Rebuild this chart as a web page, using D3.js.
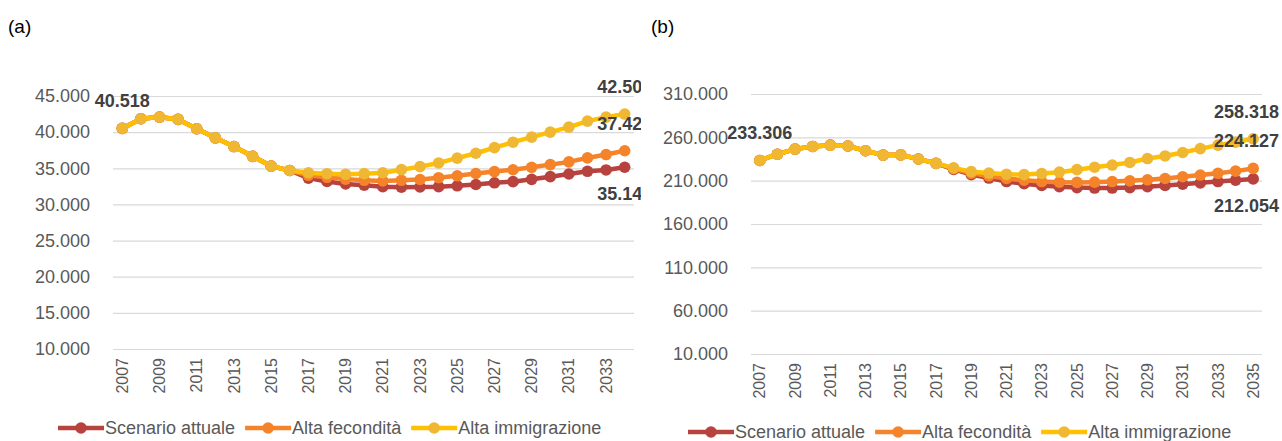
<!DOCTYPE html>
<html>
<head>
<meta charset="utf-8">
<script src="https://cdn.jsdelivr.net/npm/d3@7"></script>
<style>
  body { margin: 0; background: #fff; }
  svg text { font-family: "Liberation Sans", Arial, sans-serif; }
</style>
</head>
<body>
<svg id="chart" width="1282" height="441"></svg>
<script>
// ---- data (a) ----
var yearsA = d3.range(2007, 2035)
var attualeA = [40518, 41860, 42080, 41760, 40470, 39210, 38010, 36650, 35300, 34700,
  33640, 33180, 32830, 32650, 32460, 32390, 32410, 32460, 32580, 32760,
  32990, 33150, 33470, 33840, 34210, 34580, 34770, 35142]
var feconditaA = [40518, 41860, 42080, 41760, 40470, 39210, 38010, 36650, 35300, 34700,
  34030, 33750, 33500, 33340, 33250, 33340, 33450, 33700, 33960, 34280,
  34540, 34800, 35139, 35509, 35880, 36435, 36898, 37424]
var immigrazioneA = [40518, 41860, 42080, 41760, 40470, 39210, 38010, 36650, 35300, 34700,
  34380, 34250, 34170, 34260, 34380, 34810, 35230, 35740, 36400, 37080,
  37860, 38610, 39310, 40000, 40690, 41530, 42080, 42503]
var yTicksA = [10000, 15000, 20000, 25000, 30000, 35000, 40000, 45000]

// ---- data (b) ----
var yearsB = d3.range(2007, 2036)
var attualeB = [233306, 240500, 246500, 249500, 251000, 250000, 244500, 239500, 239800, 235000,
  230000, 223000, 217000, 213000, 209000, 206500, 204500, 203000, 202000, 201500,
  201500, 202000, 203000, 204500, 206000, 207500, 209000, 210500, 212054]
var feconditaB = [233306, 240500, 246500, 249500, 251000, 250000, 244500, 239500, 239800, 235000,
  230000, 223800, 218500, 215500, 212500, 210500, 209000, 208300, 208000, 208300,
  209000, 209800, 211000, 212500, 214500, 216500, 218500, 221000, 224127]
var immigrazioneB = [233306, 240500, 246500, 249500, 251000, 250000, 244500, 239500, 239800, 235000,
  230000, 224800, 220400, 218800, 217300, 217000, 218300, 219800, 222700, 225500,
  228000, 231000, 235500, 238500, 242500, 247000, 251000, 254500, 258318]
var yTicksB = [10000, 60000, 110000, 160000, 210000, 260000, 310000]

var seriesNames = ["Scenario attuale", "Alta fecondità", "Alta immigrazione"]
var lineColors = ["#B8423D", "#F5832A", "#FFC000"]
var dotColors = ["#B8423D", "#F5832A", "#F0B732"]

var it = d3.formatLocale({decimal: ",", thousands: ".", grouping: [3], currency: ["", "€"]})
var fmt = it.format(",.0f")

var svg = d3.select("#chart")

function drawChart(opt) {
  var g = svg.append("g")
  var x = d3.scaleBand().domain(opt.years).range([opt.x0, opt.x1])
  var y = d3.scaleLinear().domain([opt.yTicks[0], opt.yTicks[opt.yTicks.length - 1]]).range([opt.yBottom, opt.yTop])
  var cx = d => x(d) + x.bandwidth() / 2

  g.append("text").attr("x", opt.tagX).attr("y", 33)
    .attr("font-size", 19).attr("fill", "#000").text(opt.tag)

  // gridlines + y labels
  var yAxis = g.append("g")
    .attr("transform", "translate(" + opt.x0 + ",0)")
    .call(d3.axisLeft(y).tickValues(opt.yTicks).tickFormat(fmt).tickSize(-(opt.x1 - opt.x0)).tickPadding(opt.pad))
  yAxis.select(".domain").remove()
  yAxis.selectAll("line").attr("stroke", "#d9d9d9").attr("stroke-width", 1.2)
  yAxis.selectAll("text").attr("fill", "#595959").attr("font-size", 18)

  // x labels
  var xAxis = g.append("g")
    .attr("transform", "translate(0," + opt.yBottom + ")")
    .call(d3.axisBottom(x).tickValues(opt.years.filter(d => (d - 2007) % 2 == 0)).tickSize(0))
  xAxis.select(".domain").remove()
  xAxis.selectAll("text")
    .attr("fill", "#595959").attr("font-size", 16)
    .attr("transform", "rotate(-90)")
    .attr("text-anchor", "end")
    .attr("x", -9).attr("y", 0).attr("dy", "0.35em")

  var plot = g.append("g")
  if (opt.clip) {
    svg.append("clipPath").attr("id", opt.clip).append("rect")
      .attr("x", 0).attr("y", 0).attr("width", opt.clipW).attr("height", 441)
    plot.attr("clip-path", "url(#" + opt.clip + ")")
  }

  var line = d3.line().x((d, i) => cx(opt.years[i])).y(d => y(d))
  opt.series.forEach(function(s, k) {
    plot.append("path").datum(s)
      .attr("fill", "none").attr("stroke", lineColors[k]).attr("stroke-width", 4.5)
      .attr("stroke-linejoin", "round").attr("d", line)
    plot.selectAll(null).data(s).enter().append("circle")
      .attr("cx", (d, i) => cx(opt.years[i])).attr("cy", d => y(d))
      .attr("r", 5.8).attr("fill", dotColors[k])
  })

  // data labels
  var last = opt.years.length - 1
  var labels = [
    {i: 0, v: opt.series[2][0], dy: -21},
    {i: last, v: opt.series[2][last], dy: -21},
    {i: last, v: opt.series[1][last], dy: -21},
    {i: last, v: opt.series[0][last], dy: 33}
  ]
  plot.selectAll(null).data(labels).enter().append("text")
    .attr("x", d => cx(opt.years[d.i])).attr("y", d => y(d.v) + d.dy)
    .attr("text-anchor", "middle").attr("font-size", 18).attr("font-weight", "bold")
    .attr("fill", "#404040").text(d => fmt(d.v))
    .each(function() {
      // keep labels inside the page like the original does for (b)
      if (opt.fitRight) {
        var w = this.getComputedTextLength()
        var xx = +d3.select(this).attr("x")
        if (xx + w / 2 > opt.fitRight) d3.select(this).attr("x", opt.fitRight - w / 2)
      }
    })

  // legend
  var lx = opt.legendX
  seriesNames.forEach(function(name, k) {
    var lg = g.append("g").attr("transform", "translate(" + lx + "," + opt.legendY + ")")
    lg.append("line").attr("x1", 0).attr("x2", 46).attr("stroke", lineColors[k]).attr("stroke-width", 4.5)
    lg.append("circle").attr("cx", 23).attr("r", 5.8).attr("fill", dotColors[k])
    var t = lg.append("text").attr("x", 47).attr("dy", "0.35em")
      .attr("font-size", 18).attr("fill", "#595959").text(name)
    lx += 47 + t.node().getComputedTextLength() + 10
  })
}

drawChart({
  tag: "(a)", tagX: 8, years: yearsA, series: [attualeA, feconditaA, immigrazioneA],
  yTicks: yTicksA, x0: 113, x1: 634, yTop: 96, yBottom: 349, pad: 23,
  clip: "clipA", clipW: 641, legendX: 58, legendY: 428
})
drawChart({
  tag: "(b)", tagX: 651, years: yearsB, series: [attualeB, feconditaB, immigrazioneB],
  yTicks: yTicksB, x0: 751, x1: 1262, yTop: 94, yBottom: 354, pad: 23,
  fitRight: 1279, legendX: 688, legendY: 432
})
</script>
</body>
</html>
